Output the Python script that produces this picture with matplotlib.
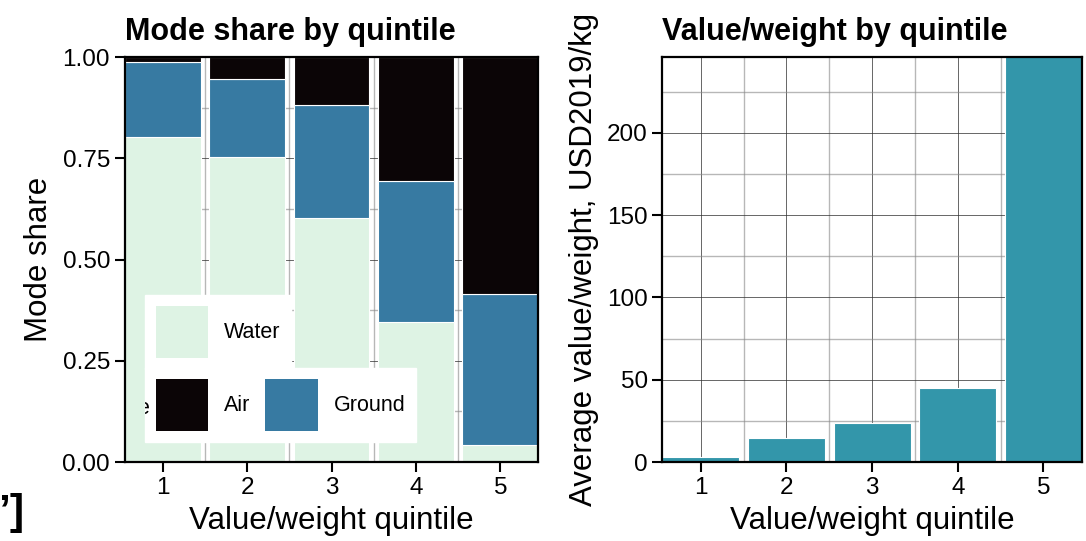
import matplotlib; matplotlib.use('Agg')
import matplotlib.pyplot as plt
import matplotlib.ticker as ticker
from matplotlib.patches import Patch, Rectangle

plt.rcParams.update({'font.family': 'Liberation Sans', 'font.size': 17})

quintiles = [1, 2, 3, 4, 5]
water = [0.803, 0.752, 0.602, 0.346, 0.042]
ground = [0.185, 0.193, 0.279, 0.348, 0.372]
air = [0.012, 0.055, 0.119, 0.306, 0.586]
value_weight = [3.2, 14.4, 23.5, 45.0, 300.0]

C_WATER, C_GROUND, C_AIR = '#DEF3E4', '#377AA2', '#0B0506'
C_VW = '#3396AA'

fig = plt.figure(figsize=(10.86, 5.41), dpi=100)
ax1 = fig.add_axes([0.1148, 0.146, 0.3809, 0.7486])
ax2 = fig.add_axes([0.6098, 0.146, 0.3865, 0.7486])


def style(ax):
    ax.set_axisbelow(True)
    ax.xaxis.set_minor_locator(ticker.MultipleLocator(0.5))
    ax.grid(which='major', color='#333333', linewidth=0.7, alpha=0.75)
    ax.grid(which='minor', color='#888888', linewidth=1.0, alpha=0.6)
    ax.tick_params(which='major', direction='out', length=7, width=1.5, labelsize=17.5)
    ax.tick_params(which='minor', length=0)
    for s in ax.spines.values():
        s.set_linewidth(1.6)
    ax.set_xticks(quintiles)
    ax.set_xlim(0.55, 5.45)
    ax.set_xlabel('Value/weight quintile', fontsize=22.5, labelpad=5)


# left: stacked mode share
bottom2 = [w + g for w, g in zip(water, ground)]
ax1.bar(quintiles, water, width=0.9, color=C_WATER, edgecolor='white', linewidth=0.8, label='Water')
ax1.bar(quintiles, ground, width=0.9, bottom=water, color=C_GROUND, edgecolor='white', linewidth=0.8, label='Ground')
ax1.bar(quintiles, air, width=0.9, bottom=bottom2, color=C_AIR, edgecolor='white', linewidth=0.8, label='Air')
style(ax1)
ax1.set_ylim(0, 1)
ax1.yaxis.set_major_locator(ticker.MultipleLocator(0.25))
ax1.yaxis.set_minor_locator(ticker.MultipleLocator(0.125))
ax1.yaxis.set_major_formatter(ticker.FormatStrFormatter('%.2f'))
ax1.set_ylabel('Mode share', fontsize=22.5, labelpad=6)
ax1.set_title('Mode share by quintile', loc='left', fontsize=22, fontweight='bold', pad=12)

leg_kw = dict(fontsize=15.5, handlelength=2.42, handleheight=3.35, handletextpad=0.75,
              columnspacing=0.7, borderpad=0.5, fancybox=False, framealpha=1,
              facecolor='white', edgecolor='white', loc='upper left',
              bbox_transform=fig.transFigure, borderaxespad=0)
leg1 = ax1.legend(handles=[Patch(facecolor=C_WATER, label='Water')],
                  bbox_to_anchor=(145 / 1086, 1 - 295 / 541), **leg_kw)
ax1.add_artist(leg1)
leg2 = ax1.legend(handles=[Patch(facecolor=C_AIR, label='Air'),
                           Patch(facecolor=C_GROUND, label='Ground')],
                  ncol=2, bbox_to_anchor=(145 / 1086, 1 - 368 / 541), **leg_kw)

# stray clipped glyph at left edge of second legend
clip = Rectangle((145 / 1086, 0.1), 0.01, 0.5, transform=fig.transFigure, visible=False)
fig.add_artist(clip)
t = fig.text(149 / 1086, 1 - 414 / 541, 'e', ha='right', va='baseline', fontsize=15.5, zorder=10)
t.set_clip_path(clip)

# right: value/weight
ax2.bar(quintiles, value_weight, width=0.9, color=C_VW, edgecolor='white', linewidth=0.8)
style(ax2)
ax2.set_ylim(0, 246)
ax2.yaxis.set_major_locator(ticker.MultipleLocator(50))
ax2.yaxis.set_minor_locator(ticker.MultipleLocator(25))
ax2.set_ylabel('Average value/weight, USD2019/kg', fontsize=22.5, labelpad=6)
ax2.set_title('Value/weight by quintile', loc='left', fontsize=22, fontweight='bold', pad=12)

fig.text(24 / 1086, 1 - 493 / 541, '\u2019]', ha='right', va='top', fontsize=31, fontweight='bold')

fig.savefig('out.png', dpi=100)
